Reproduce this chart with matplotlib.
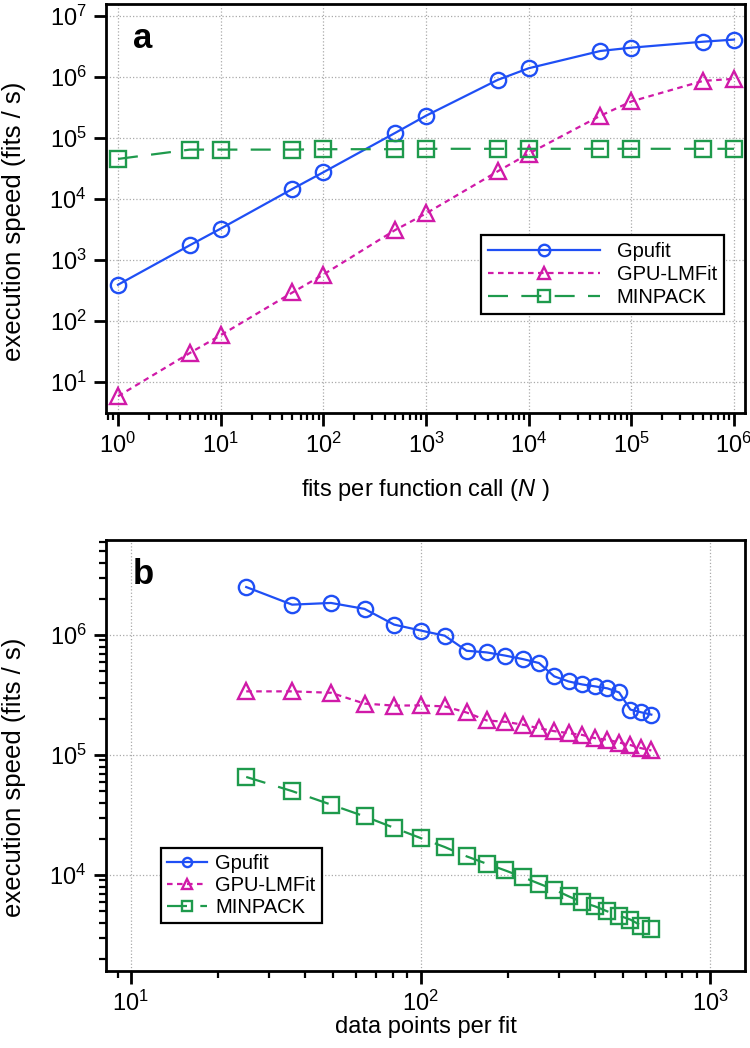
import matplotlib
matplotlib.use('Agg')
import matplotlib.pyplot as plt
import numpy as np
from matplotlib.ticker import LogLocator, NullFormatter, NullLocator

plt.rcParams['font.family'] = ['Liberation Sans', 'DejaVu Sans']
plt.rcParams['mathtext.fontset'] = 'custom'
plt.rcParams['mathtext.rm'] = 'Liberation Sans'
plt.rcParams['mathtext.it'] = 'Liberation Sans:italic'

# panel a: fits per function call
n_fits = [1, 5, 10, 50, 100, 500, 1000, 5000, 10000, 50000, 100000, 500000, 1000000]
gpufit_a = [390, 1730, 3240, 14500, 27200, 120000, 230000, 890000, 1.38e6, 2.65e6, 3.0e6, 3.76e6, 4.07e6]
lmfit_a = [5.8, 29.6, 58, 291, 573, 3070, 5750, 28200, 55000, 230000, 394000, 857000, 925000]
minpack_a = [45000, 64000, 64000, 64000, 65000, 65000, 66000, 66000, 66000, 66000, 66000, 66000, 66000]

# panel b: data points per fit
n_points = [25, 36, 49, 64, 81, 100, 121, 144, 169, 196, 225, 256, 289, 324, 361,
            400, 441, 484, 529, 576, 625]
gpufit_b = [2.51e6, 1.79e6, 1.85e6, 1.65e6, 1.22e6, 1.09e6, 9.87e5, 7.39e5, 7.16e5, 6.73e5,
            6.3e5, 5.84e5, 4.52e5, 4.1e5, 3.87e5, 3.73e5, 3.59e5, 3.32e5, 2.39e5, 2.27e5, 2.17e5]
lmfit_b = [3.39e5, 3.39e5, 3.3e5, 2.68e5, 2.58e5, 2.59e5, 2.54e5, 2.26e5, 1.94e5, 1.89e5,
           1.79e5, 1.67e5, 1.58e5, 1.52e5, 1.47e5, 1.38e5, 1.34e5, 1.27e5, 1.21e5, 1.14e5, 1.09e5]
minpack_b = [6.56e4, 5.0e4, 3.86e4, 3.08e4, 2.47e4, 2.03e4, 1.71e4, 1.43e4, 1.24e4, 1.09e4,
             9.6e3, 8.47e3, 7.55e3, 6.64e3, 5.92e3, 5.47e3, 4.97e3, 4.58e3, 4.25e3, 3.79e3, 3.55e3]

c_blue = '#1f4ff5'
c_mag = '#d01aa8'
c_green = '#1e9a4c'

fig = plt.figure(figsize=(7.5, 10.48), dpi=100)
ax_a = fig.add_axes([0.1413, 0.606, 0.852, 0.390])
ax_b = fig.add_axes([0.1413, 0.0735, 0.852, 0.4115])


def style(ax):
    ax.set_xscale('log')
    ax.set_yscale('log')
    for s in ax.spines.values():
        s.set_linewidth(2.0)
    ax.tick_params(which='major', direction='out', length=9, width=2.0, labelsize=17,
                   top=False, right=False, pad=5)
    ax.tick_params(which='minor', direction='out', length=5, width=1.6,
                   top=False, right=False)
    ax.grid(True, which='major', linestyle=':', color='#aaaaaa', linewidth=0.9)
    ax.set_axisbelow(True)


kw = dict(markersize=11, markerfacecolor='none', markeredgewidth=1.7, linewidth=1.6)

style(ax_a)
ax_a.plot(n_fits, gpufit_a, '-o', color=c_blue, label='Gpufit', **kw)
ax_a.plot(n_fits, lmfit_a, '^', linestyle=(0, (2.5, 2)), color=c_mag, label='GPU-LMFit', **kw)
ax_a.plot(n_fits, minpack_a, 's', linestyle=(0, (9, 6)), color=c_green, label='MINPACK', **kw)
ax_a.set_xticks(10.0 ** np.arange(0, 7))
ax_a.set_yticks(10.0 ** np.arange(1, 8))
ax_a.set_xlim(10 ** -0.117, 10 ** 6.107)
ax_a.set_ylim(10 ** 0.49, 10 ** 7.19)
ax_a.xaxis.set_minor_locator(LogLocator(base=10, subs=np.arange(2, 10), numticks=20))
ax_a.xaxis.set_minor_formatter(NullFormatter())
ax_a.yaxis.set_minor_locator(NullLocator())
ax_a.set_xlabel(r'fits per function call ($\mathit{N}$ )', fontsize=17, labelpad=14)
ax_a.set_ylabel('execution speed (fits / s)', fontsize=18.5)
ax_a.yaxis.set_label_coords(-0.125, 0.47)
ax_a.text(0.058, 0.915, 'a', transform=ax_a.transAxes, fontsize=25, fontweight='bold',
          va='center', ha='center')
leg = ax_a.legend(loc='lower right', bbox_to_anchor=(0.967, 0.242), fontsize=14.5,
                  markerscale=0.75, handlelength=5.6, fancybox=False, edgecolor='black',
                  framealpha=1, borderpad=0.35, labelspacing=0.2, borderaxespad=0)
leg.get_frame().set_linewidth(1.6)

style(ax_b)
ax_b.plot(n_points, gpufit_b, '-o', color=c_blue, label='Gpufit', **kw)
ax_b.plot(n_points, lmfit_b, '^', linestyle=(0, (2.5, 2)), color=c_mag, label='GPU-LMFit', **kw)
ax_b.plot(n_points, minpack_b, 's', linestyle=(0, (9, 6)), color=c_green, label='MINPACK', **kw)
ax_b.set_xticks(10.0 ** np.arange(1, 4))
ax_b.set_yticks(10.0 ** np.arange(4, 7))
ax_b.set_xlim(10 ** 0.914, 10 ** 3.119)
ax_b.set_ylim(10 ** 3.2, 10 ** 6.794)
ax_b.xaxis.set_minor_locator(LogLocator(base=10, subs=np.arange(2, 10), numticks=20))
ax_b.xaxis.set_minor_formatter(NullFormatter())
ax_b.yaxis.set_minor_locator(LogLocator(base=10, subs=np.arange(2, 10), numticks=20))
ax_b.yaxis.set_minor_formatter(NullFormatter())
ax_b.set_xlabel('data points per fit', fontsize=17, labelpad=0)
ax_b.set_ylabel('execution speed (fits / s)', fontsize=18.5)
ax_b.yaxis.set_label_coords(-0.125, 0.45)
ax_b.text(0.058, 0.919, 'b', transform=ax_b.transAxes, fontsize=25, fontweight='bold',
          va='center', ha='center')
leg = ax_b.legend(loc='upper left', bbox_to_anchor=(0.086, 0.285), fontsize=14.5,
                  markerscale=0.6, handlelength=2.0, fancybox=False, edgecolor='black',
                  framealpha=1, borderpad=0.3, labelspacing=0.15, handletextpad=0.4,
                  borderaxespad=0)
leg.get_frame().set_linewidth(1.6)

fig.savefig('out.png', dpi=100)
